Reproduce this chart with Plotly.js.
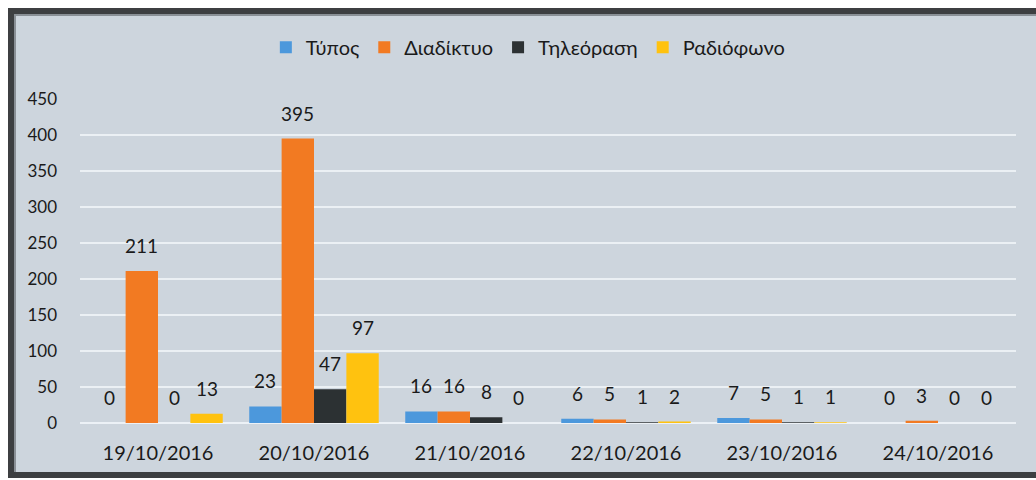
<!DOCTYPE html>
<html>
<head>
<meta charset="utf-8">
<script src="https://cdn.plot.ly/plotly-3.0.1.min.js"></script>
<style>
  html, body { margin: 0; padding: 0; background: #ffffff; }
  #frame { position: absolute; left: 8px; top: 8px; width: 1036px; height: 470px; box-sizing: border-box;
           border: 6px solid #3d3f41; border-right: none; background: #cdd5dd;
           box-shadow: inset 2px 2px 0 #8a9096; }
  #chart { position: absolute; left: 0; top: 0; width: 1036px; height: 480px; }
</style>
</head>
<body>
<div id="frame"></div>
<div id="chart"></div>
<script>
const categories = ["19/10/2016", "20/10/2016", "21/10/2016", "22/10/2016", "23/10/2016", "24/10/2016"];
const seriesNames = ["Τύπος", "Διαδίκτυο", "Τηλεόραση", "Ραδιόφωνο"];
const typos      = [0, 23, 16, 6, 7, 0];
const diadiktyo  = [211, 395, 16, 5, 5, 3];
const tileorasi  = [0, 47, 8, 1, 1, 0];
const radiofono  = [13, 97, 0, 2, 1, 0];
const yTicks = [0, 50, 100, 150, 200, 250, 300, 350, 400, 450];

const colors = ["#4c98dc", "#f27a22", "#2c3133", "#ffc20f"];
const allSeries = [typos, diadiktyo, tileorasi, radiofono];

const font = "Lato, 'Open Sans', sans-serif";
const W = 1036, H = 480;
const margin = { l: 80, r: 20, t: 99, b: 57 };
const bargap = 0.17;

const traces = allSeries.map((vals, i) => ({
  type: "bar",
  name: seriesNames[i],
  x: categories,
  y: vals,
  marker: { color: colors[i], line: { width: 0 } },
  hoverinfo: "x+y+name"
}));

// value labels: placed at each bar's data point, shifted to its slot in the group
const plotW = W - margin.l - margin.r;
const slotW = plotW / categories.length * (1 - bargap) / allSeries.length;
const annotations = [];
allSeries.forEach((vals, i) => {
  vals.forEach((v, j) => {
    annotations.push({
      x: categories[j], y: v, xref: "x", yref: "y",
      text: String(v), showarrow: false,
      xanchor: "center", yanchor: "bottom",
      xshift: (i - (allSeries.length - 1) / 2) * slotW,
      yshift: 12,
      font: { family: font, size: 19, color: "#1a1a1a" }
    });
  });
});

const layout = {
  width: W, height: H,
  paper_bgcolor: "rgba(0,0,0,0)",
  plot_bgcolor: "rgba(0,0,0,0)",
  margin: margin,
  barmode: "group",
  bargap: bargap,
  bargroupgap: 0,
  showlegend: true,
  legend: {
    orientation: "h", x: 0.479, xanchor: "center", y: 1.16, yanchor: "middle",
    font: { family: font, size: 20, color: "#1a1a1a" },
    bgcolor: "rgba(0,0,0,0)", itemsizing: "constant", traceorder: "normal"
  },
  annotations: annotations,
  xaxis: {
    type: "category",
    showgrid: false, zeroline: false, showline: false, ticks: "",
    ticklabelstandoff: 16,
    tickfont: { family: font, size: 20, color: "#1a1a1a" }
  },
  yaxis: {
    range: [0, 450],
    tickvals: yTicks,
    ticktext: yTicks.map(String),
    showgrid: true, gridcolor: "rgba(240,244,248,0.85)", gridwidth: 1.5,
    zeroline: true, zerolinecolor: "rgba(240,244,248,0.9)", zerolinewidth: 1.5,
    showline: false, ticks: "",
    ticklabelstandoff: 22,
    tickfont: { family: font, size: 17, color: "#1a1a1a" }
  },
  font: { family: font }
};

Plotly.newPlot("chart", traces, layout, { displayModeBar: false, staticPlot: true });
</script>
</body>
</html>
